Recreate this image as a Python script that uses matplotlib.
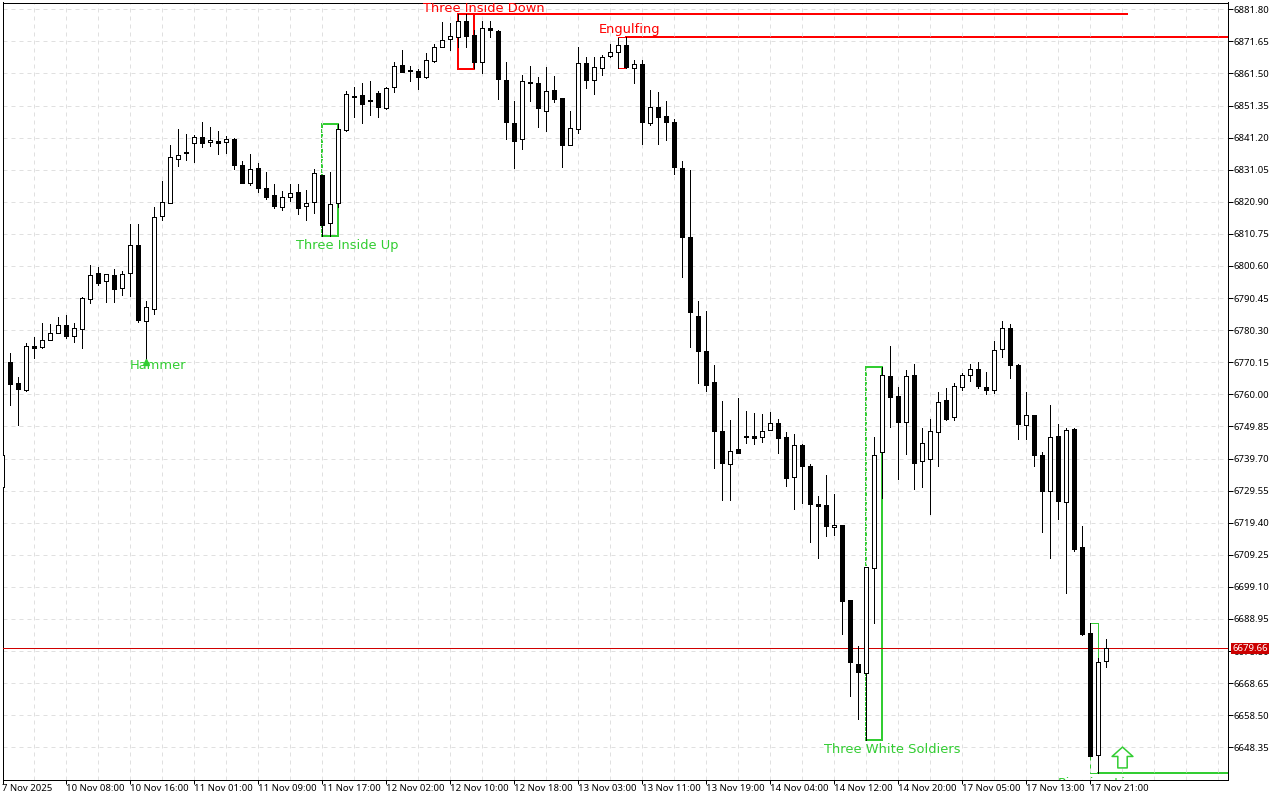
import matplotlib
matplotlib.use("Agg")
import matplotlib.pyplot as plt
from matplotlib.path import Path

# one row per bar, oldest first (bar -1 is clipped by the left edge)
bars = list(range(-1, 138))
highs = [6740.8, 6773.0, 6765.4, 6776.1, 6778.0, 6782.5, 6782.3, 6784.4, 6785.0, 6782.5, 6790.7,
         6800.8, 6800.2, 6798.0, 6799.6, 6798.9, 6813.8, 6813.8, 6789.4, 6819.2, 6827.4,
         6838.8, 6843.8, 6842.2, 6841.9, 6846.0, 6844.5, 6843.2, 6841.6, 6841.0, 6833.7,
         6835.9, 6833.1, 6830.2, 6826.4, 6824.2, 6826.4, 6826.4, 6824.5, 6831.2, 6829.4,
         6830.2, 6845.5, 6855.9, 6857.1, 6858.4, 6859.1, 6855.9, 6857.1, 6865.0, 6868.8,
         6863.9, 6862.8, 6867.9, 6870.7, 6877.7, 6877.4, 6880.2, 6880.2, 6875.1, 6878.0,
         6878.0, 6875.1, 6865.0, 6852.7, 6860.9, 6863.8, 6860.3, 6863.4, 6860.6, 6853.6,
         6849.5, 6869.8, 6866.6, 6866.6, 6867.5, 6870.7, 6872.6, 6872.9, 6865.7, 6865.7,
         6856.3, 6855.5, 6852.7, 6847.0, 6833.7, 6830.9, 6789.4, 6786.3, 6769.2, 6757.8,
         6751.8, 6758.7, 6754.6, 6754.0, 6753.7, 6754.3, 6752.1, 6748.0, 6747.4, 6744.2,
         6737.9, 6727.7, 6734.4, 6728.4, 6718.6, 6694.8, 6680.3, 6705.3, 6746.4, 6768.5,
         6775.2, 6762.2, 6767.6, 6769.5, 6749.3, 6752.1, 6760.6, 6761.9, 6763.5, 6766.6,
         6769.5, 6770.1, 6767.0, 6776.8, 6783.1, 6782.2, 6769.5, 6760.6, 6753.4, 6741.7,
         6756.5, 6750.5, 6749.3, 6749.3, 6718.3, 6687.6, 6676.5, 6682.5]
tops = [6740.8, 6770.1, 6763.5, 6775.4, 6775.2, 6777.1, 6779.3, 6782.0, 6781.8, 6780.9, 6790.4,
        6797.7, 6798.3, 6798.0, 6797.7, 6798.0, 6807.1, 6807.1, 6787.5, 6816.0, 6820.7,
        6835.0, 6835.6, 6836.7, 6841.3, 6841.3, 6840.4, 6840.0, 6840.7, 6840.7, 6832.4,
        6831.2, 6831.5, 6825.2, 6823.0, 6822.3, 6823.6, 6823.9, 6820.4, 6829.9, 6829.4,
        6820.1, 6843.8, 6854.9, 6854.4, 6854.6, 6853.0, 6855.2, 6856.8, 6863.8, 6864.1,
        6862.5, 6862.2, 6865.7, 6869.8, 6872.0, 6873.3, 6878.0, 6878.0, 6873.6, 6875.8,
        6875.8, 6874.8, 6859.3, 6845.7, 6859.0, 6858.8, 6858.4, 6855.9, 6856.2, 6853.6,
        6844.2, 6864.7, 6864.7, 6863.4, 6866.6, 6868.2, 6870.4, 6870.4, 6864.4, 6864.4,
        6850.8, 6850.8, 6847.9, 6846.0, 6831.5, 6809.7, 6784.7, 6773.6, 6763.8, 6748.3,
        6742.0, 6742.6, 6746.7, 6746.7, 6748.5, 6751.0, 6750.8, 6746.4, 6743.9, 6743.9,
        6737.2, 6725.2, 6724.9, 6718.8, 6718.6, 6694.8, 6674.6, 6705.3, 6740.7, 6766.0,
        6765.7, 6759.4, 6765.7, 6766.0, 6744.5, 6748.3, 6757.5, 6758.1, 6762.5, 6766.0,
        6767.9, 6767.9, 6762.2, 6773.9, 6780.9, 6780.9, 6769.2, 6753.4, 6753.4, 6740.7,
        6746.4, 6746.7, 6748.6, 6748.9, 6711.6, 6684.4, 6675.2, 6679.7]
bottoms = [6730.7, 6763.4, 6761.8, 6761.5, 6774.8, 6775.1, 6777.1, 6779.3, 6778.3, 6778.4, 6780.6,
           6790.1, 6795.3, 6795.8, 6793.4, 6793.5, 6798.3, 6783.6, 6783.1, 6786.9, 6816.3,
           6820.4, 6834.6, 6836.5, 6839.4, 6839.6, 6839.7, 6839.4, 6839.7, 6832.4, 6826.8,
           6826.8, 6825.2, 6822.5, 6819.5, 6819.2, 6822.3, 6818.8, 6819.5, 6820.7, 6813.7,
           6814.1, 6820.4, 6843.5, 6854.2, 6852.0, 6852.7, 6851.0, 6850.7, 6857.1, 6862.1,
           6862.3, 6860.5, 6860.5, 6865.3, 6869.8, 6872.3, 6872.9, 6873.3, 6865.0, 6865.0,
           6875.1, 6859.6, 6846.0, 6840.0, 6840.7, 6858.6, 6850.5, 6849.5, 6853.3, 6838.8,
           6838.8, 6843.8, 6859.3, 6859.3, 6863.1, 6866.9, 6868.2, 6863.4, 6863.1, 6846.0,
           6845.7, 6847.8, 6846.0, 6831.8, 6809.7, 6786.2, 6773.8, 6763.1, 6748.5, 6738.4,
           6738.1, 6741.5, 6746.5, 6746.3, 6746.4, 6748.6, 6746.3, 6733.6, 6733.8, 6737.4,
           6725.4, 6724.6, 6718.3, 6717.9, 6694.5, 6675.2, 6672.1, 6671.8, 6705.0, 6741.7,
           6759.1, 6751.2, 6751.2, 6738.2, 6738.8, 6739.4, 6748.0, 6752.3, 6752.7, 6762.2,
           6766.0, 6762.5, 6761.3, 6761.3, 6774.2, 6769.2, 6750.7, 6750.2, 6740.7, 6729.3,
           6729.3, 6726.2, 6725.8, 6711.2, 6684.3, 6645.7, 6645.8, 6675.6]
lows = [6730.7, 6756.7, 6750.3, 6761.2, 6771.6, 6774.8, 6777.1, 6779.3, 6777.9, 6776.7, 6774.8,
        6789.0, 6794.7, 6789.3, 6789.3, 6791.5, 6791.2, 6783.0, 6770.9, 6785.5, 6815.3,
        6820.4, 6832.3, 6834.2, 6833.5, 6838.3, 6838.5, 6836.1, 6836.5, 6831.4, 6826.8,
        6826.3, 6824.1, 6821.7, 6818.8, 6818.4, 6821.3, 6817.2, 6815.3, 6817.3, 6810.1,
        6810.1, 6819.2, 6843.2, 6847.8, 6845.9, 6848.5, 6847.8, 6850.4, 6855.7, 6862.1,
        6859.2, 6856.7, 6860.2, 6865.0, 6869.8, 6868.8, 6869.8, 6869.8, 6863.1, 6861.8,
        6873.1, 6853.5, 6840.7, 6831.7, 6837.7, 6852.9, 6844.7, 6843.4, 6852.6, 6832.0,
        6838.8, 6842.8, 6857.0, 6855.1, 6861.1, 6866.6, 6863.1, 6863.1, 6858.6, 6839.3,
        6845.1, 6839.3, 6840.6, 6829.8, 6797.2, 6775.1, 6763.7, 6761.2, 6736.8, 6726.7,
        6726.7, 6741.5, 6744.7, 6744.4, 6745.0, 6748.6, 6741.5, 6731.1, 6723.8, 6725.7,
        6713.3, 6708.3, 6715.3, 6715.6, 6684.3, 6664.7, 6657.4, 6650.6, 6687.8, 6727.3,
        6749.8, 6733.3, 6741.2, 6729.9, 6730.8, 6722.3, 6737.4, 6751.8, 6751.8, 6761.3,
        6764.3, 6761.9, 6760.0, 6760.3, 6771.9, 6765.2, 6746.0, 6746.0, 6737.4, 6716.3,
        6708.3, 6720.7, 6697.0, 6710.6, 6684.0, 6645.7, 6640.1, 6673.9]
# 1 = bull (hollow), 0 = bear (filled)
bull = [1, 0, 0, 1, 0, 1, 1, 1, 0, 1, 1,
        1, 0, 1, 0, 1, 1, 0, 1, 1, 1,
        1, 1, 0, 1, 0, 1, 0, 1, 0, 0,
        1, 0, 0, 0, 1, 1, 0, 1, 1, 0,
        1, 1, 1, 0, 0, 0, 0, 1, 1, 0,
        0, 0, 1, 1, 1, 1, 1, 0, 0, 1,
        0, 0, 0, 0, 1, 0, 0, 1, 0, 0,
        1, 1, 0, 1, 1, 1, 1, 0, 1, 0,
        1, 0, 0, 0, 0, 0, 0, 0, 0, 0,
        1, 0, 0, 0, 1, 1, 0, 0, 1, 0,
        0, 0, 0, 1, 0, 0, 0, 1, 1, 1,
        0, 0, 1, 0, 1, 1, 1, 0, 1, 1,
        1, 0, 0, 1, 1, 0, 0, 1, 0, 0,
        1, 0, 1, 0, 0, 0, 1, 1]

price_ticks = [6881.80, 6871.65, 6861.50, 6851.35, 6841.20, 6831.05, 6820.90, 6810.75,
               6800.60, 6790.45, 6780.30, 6770.15, 6760.00, 6749.85, 6739.70, 6729.55,
               6719.40, 6709.25, 6699.10, 6688.95, 6678.80, 6668.65, 6658.50, 6648.35]
time_ticks = [-1, 7, 15, 23, 31, 39, 47, 55, 63, 71, 79, 87, 95, 103, 111, 119, 127, 135]
time_labels = ["7 Nov 2025", "10 Nov 08:00", "10 Nov 16:00", "11 Nov 01:00", "11 Nov 09:00",
               "11 Nov 17:00", "12 Nov 02:00", "12 Nov 10:00", "12 Nov 18:00", "13 Nov 03:00",
               "13 Nov 11:00", "13 Nov 19:00", "14 Nov 04:00", "14 Nov 12:00", "14 Nov 20:00",
               "17 Nov 05:00", "17 Nov 13:00", "17 Nov 21:00"]
grid_bars = [3 + 4 * k for k in range(38)]

last_price = 6679.66

GREEN = "#32cd32"
RED = "#ff0000"
PX = 0.72

# name, colour, first bar, last bar, top, bottom, line end, line width in px
patterns = [
    ("Three Inside Up", GREEN, 39, 41, 6845.5, 6810.1, None, 2),
    ("Three Inside Down", RED, 56, 58, 6880.3, 6863.0, 139.6, 2),
    ("Engulfing", RED, 76, 77, 6873.1, 6863.1, 153, 1),
    ("Three White Soldiers", GREEN, 107, 109, 6768.7, 6650.7, None, 2),
    ("Piercing Line", GREEN, 135, 136, 6687.6, 6640.2, 153, 1),
]
# label text anchors: bar (left edge), price (vertical centre)
label_bars = [35.7, 51.6, 73.5, 101.7, 131.0]
label_prices = [6807.2, 6882.2, 6875.3, 6647.7, 6636.9]

fig = plt.figure(figsize=(12.8, 8), dpi=100)
ax = fig.add_axes([2.5 / 1280, 20.5 / 800, 1225 / 1280, 777 / 800])
ax.set_xlim(-0.975, 152.15)
ax.set_ylim(6638.16, 6883.95)

for x in grid_bars:
    ax.axvline(x, color="#e0e0e0", lw=PX, dashes=(4, 4), zorder=2)
for y in price_ticks:
    ax.axhline(y, color="#e0e0e0", lw=PX, dashes=(4, 4), zorder=2)

for (name, col, b0, b1, top, bot, end, w), lx, ly in zip(patterns, label_bars, label_prices):
    ax.plot([b0, b1, b1], [top, top, bot], color=col, lw=w * PX, zorder=1,
            solid_capstyle="projecting", antialiased=False)
    ax.plot([b0, b1], [bot, bot], color=col, lw=w * PX, zorder=1,
            solid_capstyle="projecting", antialiased=False)
    if col == GREEN:
        ax.plot([b0, b0], [top, bot], color=col, lw=w * PX, dashes=(2, 1), zorder=1, antialiased=False)
    else:
        ax.plot([b0, b0], [top, bot], color=col, lw=w * PX, zorder=1, antialiased=False)
    if end is not None:
        ax.plot([b1, end], [top if col == RED else bot] * 2, color=col, lw=2 * PX, zorder=1, antialiased=False)
    ax.text(lx, ly, name, color=col, fontsize=9.4, va="center", ha="left", clip_on=True, zorder=6)

ax.axhline(last_price, color="#d00000", lw=PX, zorder=3)

ax.vlines(bars, lows, highs, color="black", lw=PX, zorder=4, antialiased=False)
for b, t, bt, up in zip(bars, tops, bottoms, bull):
    ax.bar(b, max(t - bt, 0.3), width=0.5, bottom=bt, facecolor="white" if up else "black",
           edgecolor="black", linewidth=PX, zorder=5, antialiased=False)

# hammer marker and the buy arrow
ax.text(14.95, 6769.0, "Hammer", color=GREEN, fontsize=9.4, va="center", ha="left", zorder=6)
ax.plot([17], [6770.2], marker="^", ms=5, color=GREEN, mec=GREEN, zorder=6)
arrow = Path([(0, 1), (-1, 0.1), (-0.45, 0.1), (-0.45, -1), (0.45, -1), (0.45, 0.1), (1, 0.1), (0, 1)], closed=True)
ax.plot([139], [6645.3], marker=arrow, ms=15, mfc="white", mec=GREEN, mew=1.1, ls="none", zorder=6)

ax.set_xticks(time_ticks)
ax.set_xticklabels(time_labels, ha="left", fontsize=6.9, family="Noto Sans")
ax.set_yticks(price_ticks)
ax.set_yticklabels(["%.2f" % p for p in price_ticks], fontsize=6.9, family="Noto Sans")
ax.yaxis.tick_right()
ax.tick_params(axis="y", length=3.6, width=PX, color="black", pad=0.4)
ax.tick_params(axis="x", length=3, width=PX, color="black", pad=0.5)
for s in ax.spines.values():
    s.set_linewidth(PX)

ax.annotate("%.2f" % last_price, xy=(1, last_price), xycoords=("axes fraction", "data"),
            xytext=(3.4, 0), textcoords="offset points", va="center", ha="left", color="white",
            fontsize=6.9, family="Noto Sans", zorder=7, annotation_clip=False,
            bbox=dict(boxstyle="square,pad=0.12", fc="#cc0000", ec="#cc0000", lw=0))

fig.savefig("out.png", dpi=100)
